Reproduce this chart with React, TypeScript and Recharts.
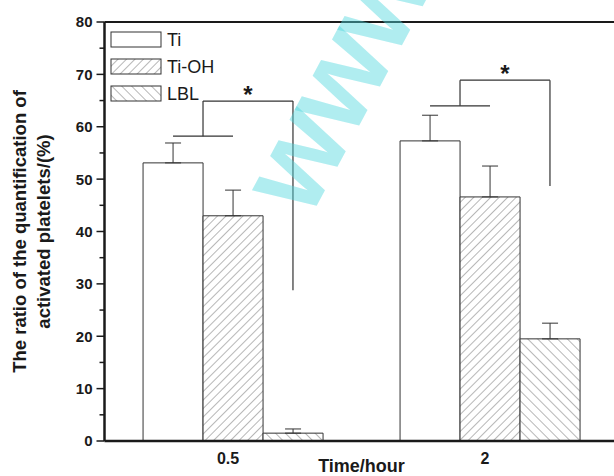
import {
  BarChart,
  Bar,
  XAxis,
  YAxis,
  ErrorBar,
  Label,
  ReferenceLine,
  ReferenceDot,
} from "recharts";

const TIMES = ["0.5", "2"];
const TI = [53.1, 57.3];
const TI_ERR = [3.8, 4.9];
const TI_OH = [43.0, 46.6];
const TI_OH_ERR = [4.9, 5.9];
const LBL = [1.5, 19.5];
const LBL_ERR = [0.8, 3.0];
const Y_TICKS = [0, 5, 10, 15, 20, 25, 30, 35, 40, 45, 50, 55, 60, 65, 70, 75, 80];

// significance brackets: short bar over Ti/Ti-OH, raised arm over to LBL
const BRACKET_LOW = [58.2, 64.0];
const BRACKET_TOP = [64.9, 68.9];
const BRACKET_DROP = [28.8, 48.7];

const FONT = "Arial, 'Liberation Sans', Helvetica, sans-serif";
const INK = "#1a1a1a";

const data = TIMES.map((t, i) => ({
  time: t,
  pos: i + 0.5,
  ti: TI[i],
  tiErr: [0, TI_ERR[i]],
  tiOh: TI_OH[i],
  tiOhErr: [0, TI_OH_ERR[i]],
  lbl: LBL[i],
  lblErr: [0, LBL_ERR[i]],
}));

// bars fill 70% of each band, three bars side by side
const GAP = 0.15;
const BAR_W = (1 - 2 * GAP) / 3;
const barCenter = (group: number, idx: number) => group + GAP + (idx + 0.5) * BAR_W;

const SERIES = [
  { key: "ti", err: "tiErr", name: "Ti", fill: "#ffffff" },
  { key: "tiOh", err: "tiOhErr", name: "Ti-OH", fill: "url(#hatchFwd)" },
  { key: "lbl", err: "lblErr", name: "LBL", fill: "url(#hatchBack)" },
];

function YTick({ x, y, payload }: any) {
  const major = payload.value % 10 === 0;
  return (
    <g>
      <line x1={x - (major ? 8 : 5)} x2={x} y1={y} y2={y} stroke={INK} strokeWidth={1.5} />
      {major && (
        <text
          x={x - 12}
          y={y}
          dy="0.36em"
          textAnchor="end"
          fontFamily={FONT}
          fontWeight="bold"
          fontSize={15}
          fill={INK}
        >
          {payload.value}
        </text>
      )}
    </g>
  );
}

function XTick({ x, y, payload }: any) {
  return (
    <text
      x={x - 5}
      y={y + 15}
      textAnchor="middle"
      fontFamily={FONT}
      fontWeight="bold"
      fontSize={16}
      fill={INK}
    >
      {payload.value}
    </text>
  );
}

function LegendBox() {
  return (
    <div
      style={{
        position: "absolute",
        left: 110,
        top: 26,
        fontFamily: FONT,
        fontSize: 18,
        color: INK,
        pointerEvents: "none",
      }}
    >
      {SERIES.map((s) => (
        <div key={s.key} style={{ display: "flex", alignItems: "center", height: 27 }}>
          <svg width={52} height={17} style={{ display: "block" }}>
            <rect x={1} y={1} width={50} height={15} fill={s.fill} stroke="#333" strokeWidth={1} />
          </svg>
          <span style={{ marginLeft: 5, lineHeight: "18px" }}>{s.name}</span>
        </div>
      ))}
    </div>
  );
}

export default function App() {
  return (
    <div
      style={{
        position: "absolute",
        left: 0,
        top: 0,
        width: 614,
        height: 476,
        overflow: "hidden",
        background: "#fff",
      }}
    >
      <BarChart
        width={620}
        height={476}
        data={data}
        margin={{ top: 22, right: 1.5, bottom: 0, left: 0 }}
        barCategoryGap="15%"
        barGap={0}
      >
        <defs>
          <pattern id="hatchFwd" patternUnits="userSpaceOnUse" width={6} height={6} patternTransform="rotate(45)">
            <rect width={6} height={6} fill="#fff" />
            <line x1={0} y1={0} x2={0} y2={6} stroke="#707070" strokeWidth={1} />
          </pattern>
          <pattern id="hatchBack" patternUnits="userSpaceOnUse" width={7} height={7} patternTransform="rotate(-45)">
            <rect width={7} height={7} fill="#fff" />
            <line x1={0} y1={0} x2={0} y2={7} stroke="#707070" strokeWidth={1} />
          </pattern>
        </defs>
        <XAxis
          dataKey="time"
          height={35}
          axisLine={{ stroke: INK, strokeWidth: 2.5 }}
          tickLine={false}
          tick={<XTick />}
        >
          <Label
            content={({ viewBox }: any) => (
              <text
                x={viewBox.x + viewBox.width / 2}
                y={viewBox.y + 31}
                textAnchor="middle"
                fontFamily={FONT}
                fontWeight="bold"
                fontSize={18}
                fill={INK}
              >
                Time/hour
              </text>
            )}
          />
        </XAxis>
        <XAxis
          xAxisId="pos"
          dataKey="pos"
          type="number"
          domain={[0, 2]}
          padding={{ left: 0, right: 0 }}
          hide
          allowDataOverflow
        />
        <YAxis
          width={104.5}
          domain={[0, 80]}
          ticks={Y_TICKS}
          interval={0}
          tickSize={0}
          tickMargin={0}
          axisLine={{ stroke: INK, strokeWidth: 2.5 }}
          tickLine={false}
          tick={<YTick />}
        >
          <Label
            content={({ viewBox }: any) => {
              const cy = viewBox.y + viewBox.height / 2;
              return (
                <g fontFamily={FONT} fontWeight="bold" fontSize={18.5} fill={INK} textAnchor="middle">
                  <text x={26} y={cy} transform={`rotate(-90 26 ${cy})`}>
                    The ratio of the quantification of
                  </text>
                  <text x={50} y={cy} transform={`rotate(-90 50 ${cy})`}>
                    activated platelets/(%)
                  </text>
                </g>
              );
            }}
          />
        </YAxis>
        <ReferenceLine y={80} stroke={INK} strokeWidth={2} />
        {SERIES.map((s) => (
          <Bar
            key={s.key}
            dataKey={s.key}
            name={s.name}
            fill={s.fill}
            stroke="#333"
            strokeWidth={1}
            isAnimationActive={false}
          >
            <ErrorBar dataKey={s.err} width={8} stroke="#333" strokeWidth={1} direction="y" />
          </Bar>
        ))}
        {TIMES.map((t, g) => (
          <ReferenceLine
            key={`low-${t}`}
            xAxisId="pos"
            segment={[
              { x: barCenter(g, 0), y: BRACKET_LOW[g] },
              { x: barCenter(g, 1), y: BRACKET_LOW[g] },
            ]}
            stroke="#333"
            strokeWidth={1.2}
            ifOverflow="visible"
          />
        ))}
        {TIMES.map((t, g) => (
          <ReferenceLine
            key={`stem-${t}`}
            xAxisId="pos"
            segment={[
              { x: barCenter(g, 0.5), y: BRACKET_LOW[g] },
              { x: barCenter(g, 0.5), y: BRACKET_TOP[g] },
            ]}
            stroke="#333"
            strokeWidth={1.2}
            ifOverflow="visible"
          />
        ))}
        {TIMES.map((t, g) => (
          <ReferenceLine
            key={`top-${t}`}
            xAxisId="pos"
            segment={[
              { x: barCenter(g, 0.5), y: BRACKET_TOP[g] },
              { x: barCenter(g, 2), y: BRACKET_TOP[g] },
            ]}
            stroke="#333"
            strokeWidth={1.2}
            ifOverflow="visible"
          />
        ))}
        {TIMES.map((t, g) => (
          <ReferenceLine
            key={`drop-${t}`}
            xAxisId="pos"
            segment={[
              { x: barCenter(g, 2), y: BRACKET_TOP[g] },
              { x: barCenter(g, 2), y: BRACKET_DROP[g] },
            ]}
            stroke="#333"
            strokeWidth={1.2}
            ifOverflow="visible"
          />
        ))}
        {TIMES.map((t, g) => (
          <ReferenceDot
            key={`star-${t}`}
            xAxisId="pos"
            x={barCenter(g, 1.25)}
            y={BRACKET_TOP[g]}
            r={0}
            stroke="none"
            ifOverflow="visible"
            label={{
              value: "*",
              position: "top",
              offset: -2,
              fontFamily: FONT,
              fontWeight: "bold",
              fontSize: 24,
              fill: INK,
            }}
          />
        ))}
      </BarChart>
      <LegendBox />
      <div
        style={{
          position: "absolute",
          left: 218,
          top: 172,
          fontFamily: FONT,
          fontWeight: "bold",
          fontSize: 122,
          letterSpacing: -4,
          color: "rgba(80, 215, 222, 0.45)",
          transform: "rotate(-62deg)",
          transformOrigin: "0 0",
          whiteSpace: "nowrap",
          pointerEvents: "none",
          lineHeight: 1,
        }}
      >
        www.
      </div>
    </div>
  );
}
